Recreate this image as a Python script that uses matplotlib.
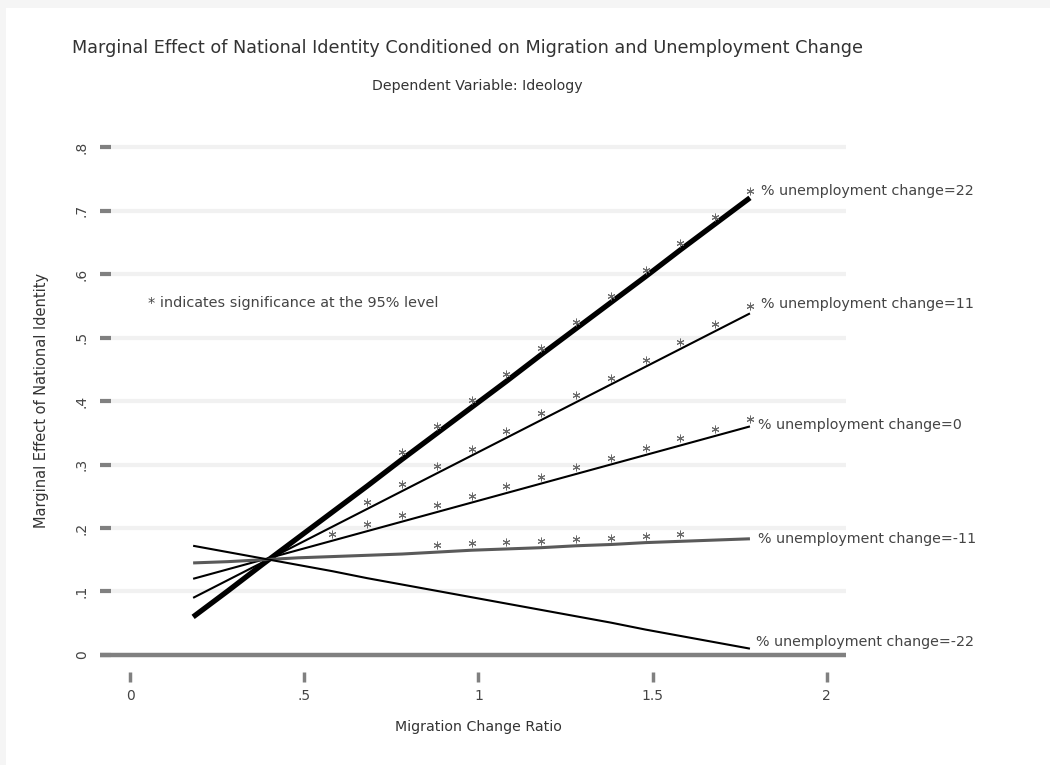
import matplotlib
matplotlib.use("Agg")
import matplotlib.pyplot as plt
from matplotlib.patches import Rectangle
from matplotlib.transforms import offset_copy

# ---- data ----
migration = [0.18, 0.28, 0.38, 0.48, 0.58, 0.68, 0.78, 0.88, 0.98,
             1.08, 1.18, 1.28, 1.38, 1.48, 1.58, 1.68, 1.78]

me_u22 = [0.060, 0.101, 0.143, 0.184, 0.225, 0.266, 0.308, 0.349, 0.390,
          0.431, 0.473, 0.514, 0.555, 0.596, 0.638, 0.679, 0.720]
me_u11 = [0.090, 0.118, 0.146, 0.174, 0.202, 0.230, 0.258, 0.286, 0.314,
          0.342, 0.370, 0.398, 0.426, 0.454, 0.482, 0.510, 0.538]
me_u0 = [0.120, 0.135, 0.150, 0.165, 0.180, 0.195, 0.210, 0.225, 0.240,
         0.255, 0.270, 0.285, 0.300, 0.315, 0.330, 0.345, 0.360]
me_um11 = [0.145, 0.147, 0.150, 0.153, 0.155, 0.157, 0.159, 0.162, 0.165,
           0.167, 0.169, 0.172, 0.174, 0.177, 0.179, 0.181, 0.183]
me_um22 = [0.172, 0.162, 0.152, 0.142, 0.132, 0.121, 0.111, 0.101, 0.091,
           0.081, 0.071, 0.061, 0.051, 0.040, 0.030, 0.020, 0.010]

sig_u22 = [0, 0, 0, 0, 0, 0, 1, 1, 1, 1, 1, 1, 1, 1, 1, 1, 1]
sig_u11 = [0, 0, 0, 0, 0, 1, 1, 1, 1, 1, 1, 1, 1, 1, 1, 1, 1]
sig_u0 = [0, 0, 0, 0, 1, 1, 1, 1, 1, 1, 1, 1, 1, 1, 1, 1, 1]
sig_um11 = [0, 0, 0, 0, 0, 0, 0, 1, 1, 1, 1, 1, 1, 1, 1, 0, 0]
sig_um22 = [0] * 17

series_labels = ["% unemployment change=22", "% unemployment change=11",
                 "% unemployment change=0", "% unemployment change=-11",
                 "% unemployment change=-22"]

yticks = [0, 0.1, 0.2, 0.3, 0.4, 0.5, 0.6, 0.7, 0.8]
ytick_labels = ["0", ".1", ".2", ".3", ".4", ".5", ".6", ".7", ".8"]
xticks = [0, 0.5, 1, 1.5, 2]
xtick_labels = ["0", ".5", "1", "1.5", "2"]

title = "Marginal Effect of National Identity Conditioned on Migration and Unemployment Change"
subtitle = "Dependent Variable: Ideology"
xlabel = "Migration Change Ratio"
ylabel = "Marginal Effect of National Identity"
note = "* indicates significance at the 95% level"

# ---- figure ----
W, H = 1050, 765
fig = plt.figure(figsize=(W / 100, H / 100), dpi=100)
fig.patch.set_facecolor("#f5f5f5")
fig.patches.append(Rectangle((6 / W, 0), 1, (H - 8) / H, transform=fig.transFigure,
                             facecolor="white", edgecolor="none", zorder=-10))

ax = fig.add_axes([100 / W, 93 / H, 746 / W, 544 / H])
ax.set_facecolor("none")
ax.set_xlim(-0.0876, 2.056)
ax.set_ylim(-0.0268, 0.830)
for s in ax.spines.values():
    s.set_visible(False)

for yv in yticks[1:]:
    ax.axhline(yv, color="#f1f1f1", lw=3, zorder=0)
ax.axhline(0, color="#808080", lw=3.2, zorder=1)

ax.set_yticks(yticks)
ax.set_yticklabels(ytick_labels, rotation=90, va="center")
ax.set_xticks(xticks)
ax.set_xticklabels(xtick_labels)
ax.tick_params(axis="y", direction="in", length=8, width=3, color="#808080",
               pad=8, labelsize=10, labelcolor="#444444")
ax.tick_params(axis="x", direction="out", length=7.5, width=2.5, color="#808080",
               pad=5, labelsize=10, labelcolor="#444444")

series = [me_u22, me_u11, me_u0, me_um11, me_um22]
sigs = [sig_u22, sig_u11, sig_u0, sig_um11, sig_um22]
colors = ["black", "black", "black", "#5a5a5a", "black"]
widths = [3.8, 1.5, 1.5, 2.2, 1.5]
label_offsets = [(8, 5), (8, 7), (6, 1), (6, 0), (4, 5)]

star_tr = offset_copy(ax.transData, fig=fig, x=0, y=7, units="dots")
for ys, sg, c, lw, lab, off in zip(series, sigs, colors, widths, series_labels, label_offsets):
    ax.plot(migration, ys, color=c, lw=lw, solid_capstyle="butt", zorder=3)
    sx = [x for x, f in zip(migration, sg) if f]
    sy = [y for y, f in zip(ys, sg) if f]
    if sx:
        ax.plot(sx, sy, linestyle="none", marker=(6, 2, 0), ms=5.5, mew=0.7,
                color="#6a6a6a", transform=star_tr, zorder=4)
    ax.annotate(lab, (migration[-1], ys[-1]), xytext=off, textcoords="offset points",
                fontsize=10.3, color="#444444", ha="left", va="center",
                annotation_clip=False)

ax.text(0.05, 0.554, note, fontsize=10.4, color="#444444", ha="left", va="center")

fig.text(467 / W, 1 - 48 / H, title, fontsize=12.7, color="#333333", ha="center", va="center")
fig.text(477 / W, 1 - 86 / H, subtitle, fontsize=10.2, color="#333333", ha="center", va="center")
fig.text(478 / W, 1 - 727 / H, xlabel, fontsize=10.2, color="#333333", ha="center", va="center")
fig.text(42 / W, 1 - 400 / H, ylabel, fontsize=10.5, color="#333333", ha="center", va="center",
         rotation=90)

fig.savefig("out.png", dpi=100, facecolor=fig.get_facecolor())
